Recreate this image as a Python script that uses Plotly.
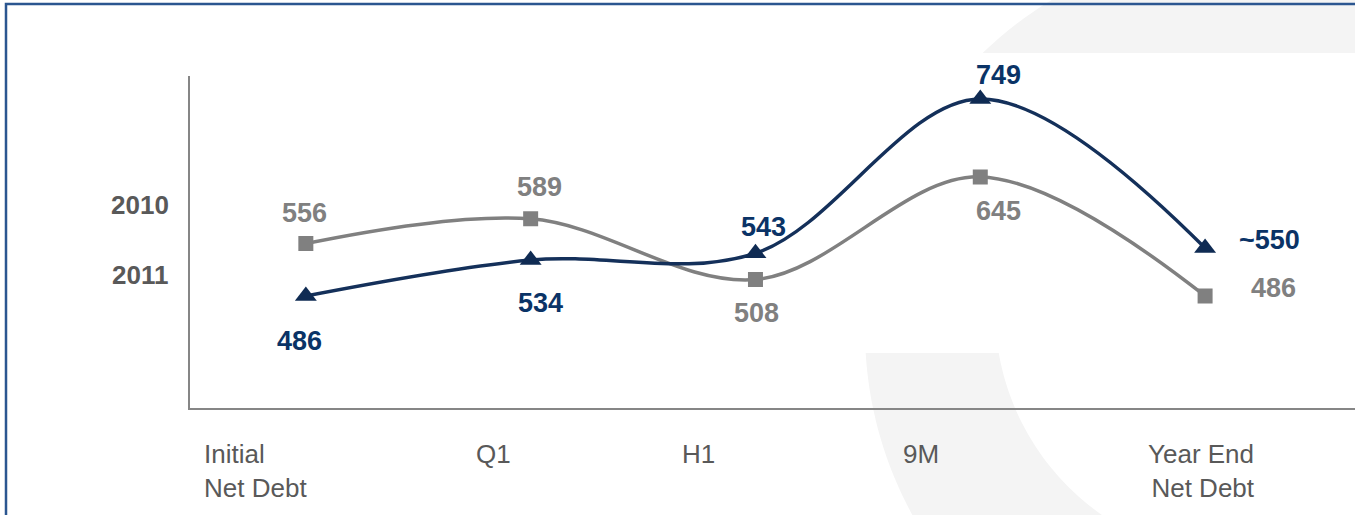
import numpy as np
import plotly.graph_objects as go

# ---- data -------------------------------------------------------------
categories = ["Initial Net Debt", "Q1", "H1", "9M", "Year End Net Debt"]
tick_text = ["Initial<br>Net Debt", "Q1", "H1", "9M", "Year End<br>Net Debt"]
series_names = ["2010", "2011"]
debt_2010 = [556, 589, 508, 645, 486]
debt_2011 = [486, 534, 543, 749, 550]
labels_2010 = ["556", "589", "508", "645", "486"]
labels_2011 = ["486", "534", "543", "749", "~550"]

# ---- page geometry (pixels) ------------------------------------------
W, H = 1355, 515


def px(x):
    return x / W


def py(y):
    return 1 - y / H


GRAY = "#808080"
NAVY_LINE = "#14305a"
NAVY_MARK = "#0f2b53"
NAVY_TEXT = "#0a3366"
AXIS_TEXT = "#595959"
FONT = "Arial, Liberation Sans, sans-serif"

fig = go.Figure()

fig.add_trace(go.Scatter(
    x=categories, y=debt_2010, name=series_names[0], mode="lines+markers",
    line=dict(color=GRAY, width=3.5, shape="spline", smoothing=1),
    marker=dict(symbol="square", size=15, color=GRAY),
    showlegend=False, hoverinfo="skip",
))
fig.add_trace(go.Scatter(
    x=categories, y=debt_2011, name=series_names[1], mode="lines+markers",
    line=dict(color=NAVY_LINE, width=3.5, shape="spline", smoothing=1),
    marker=dict(symbol="triangle-up", size=19, color=NAVY_MARK),
    showlegend=False, hoverinfo="skip",
))

annotations = []

# value labels, offset from their points in pixels
offsets_2010 = [(-1.5, 30.8), (8.5, 32), (1, -33.2), (18, -34), (68.5, 8.3)]
offsets_2011 = [(-6, -45.2), (10, -42.7), (8, 26.5), (18, 24), (64.5, 7.8)]
for values, texts, offs, color in [
    (debt_2010, labels_2010, offsets_2010, GRAY),
    (debt_2011, labels_2011, offsets_2011, NAVY_TEXT),
]:
    for cat, v, t, (dx, dy) in zip(categories, values, texts, offs):
        annotations.append(dict(
            x=cat, y=v, xref="x", yref="y", text=f"<b>{t}</b>",
            showarrow=False, xshift=dx, yshift=dy,
            font=dict(family=FONT, size=27, color=color),
        ))

# category labels under the axis
cat_label_pos = [(202, "left"), (493, "center"), (698, "center"),
                 (921, "center"), (1257, "right")]
for txt, (x, anchor) in zip(tick_text, cat_label_pos):
    annotations.append(dict(
        x=px(x), y=py(436.5), xref="paper", yref="paper", text=txt,
        xanchor=anchor, yanchor="top", align=anchor, showarrow=False,
        font=dict(family=FONT, size=26, color=AXIS_TEXT),
    ))

# series names on the left
for name, y in zip(series_names, [204.5, 274.5]):
    annotations.append(dict(
        x=px(140), y=py(y), xref="paper", yref="paper", text=f"<b>{name}</b>",
        xanchor="center", yanchor="middle", showarrow=False,
        font=dict(family=FONT, size=26, color=AXIS_TEXT),
    ))


# ---- background decoration -------------------------------------------
def circle_pts(cx, cy, r, n=240, reverse=False):
    t = np.linspace(0, 2 * np.pi, n, endpoint=False)
    if reverse:
        t = t[::-1]
    return [(px(cx + r * np.cos(a)), py(cy + r * np.sin(a))) for a in t]


def poly_path(pts):
    return "M " + " L ".join(f"{x:.5f},{y:.5f}" for x, y in pts) + " Z"


ring_path = poly_path(circle_pts(1250, 330, 385)) + " " + \
    poly_path(circle_pts(1245, 310, 250, reverse=True))

shapes = [
    dict(type="path", path=ring_path, xref="paper", yref="paper",
         fillcolor="#f4f4f4", line=dict(width=0), layer="below"),
    dict(type="rect", xref="paper", yref="paper",
         x0=px(0), x1=px(W), y0=py(353), y1=py(53),
         fillcolor="white", line=dict(width=0), layer="below"),
    dict(type="path", xref="paper", yref="paper",
         path=f"M {px(6):.5f},{py(H + 2):.5f} L {px(6):.5f},{py(4):.5f} L {px(W + 2):.5f},{py(4):.5f}",
         line=dict(color="#2b5690", width=2.5), layer="above"),
]

fig.update_layout(
    width=W, height=H,
    margin=dict(l=0, r=0, t=0, b=0),
    paper_bgcolor="white",
    plot_bgcolor="rgba(0,0,0,0)",
    showlegend=False,
    annotations=annotations,
    shapes=shapes,
    xaxis=dict(
        type="category", categoryorder="array", categoryarray=categories,
        domain=[px(189.5), 1], range=[-0.5175, 4.6668],
        showline=True, linecolor="#868686", linewidth=2,
        showgrid=False, zeroline=False, showticklabels=False, ticks="",
        fixedrange=True,
    ),
    yaxis=dict(
        domain=[py(407.5), py(76)], range=[337.1, 779.7],
        showline=True, linecolor="#868686", linewidth=2,
        showgrid=False, zeroline=False, showticklabels=False, ticks="",
        fixedrange=True,
    ),
)

fig.write_html("out.html")
